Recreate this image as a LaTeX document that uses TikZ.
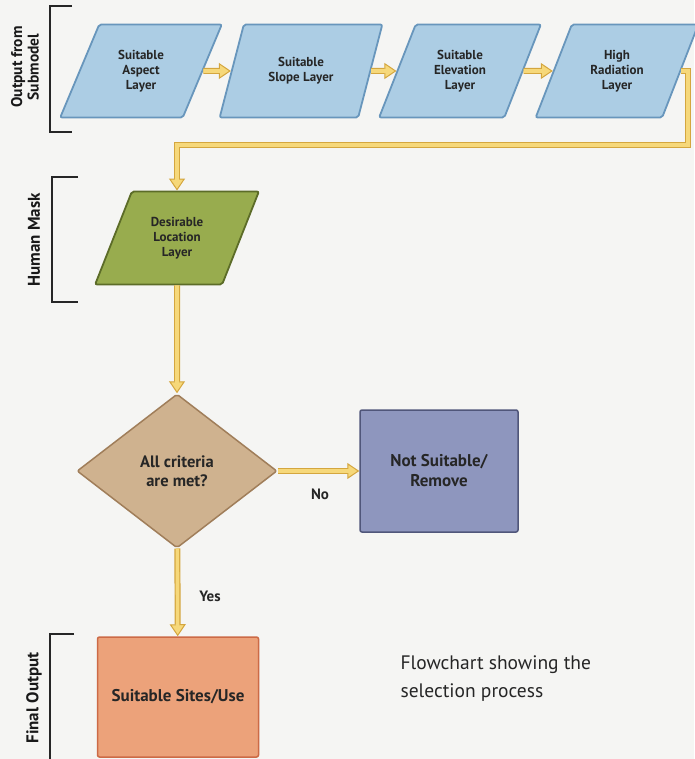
\documentclass[tikz,border=0pt]{standalone}
\usepackage{fontspec}
\setmainfont{PT Sans}
\usetikzlibrary{shapes.geometric,arrows.meta}
\definecolor{bg}{RGB}{245,245,243}
\definecolor{txt}{RGB}{38,38,38}
\definecolor{bfill}{RGB}{172,205,228}
\definecolor{bdraw}{RGB}{104,150,188}
\definecolor{gfill}{RGB}{152,172,78}
\definecolor{gdraw}{RGB}{92,108,40}
\definecolor{dfill}{RGB}{207,178,143}
\definecolor{ddraw}{RGB}{160,126,90}
\definecolor{nfill}{RGB}{142,150,190}
\definecolor{ndraw}{RGB}{80,86,122}
\definecolor{ffill}{RGB}{236,162,122}
\definecolor{fdraw}{RGB}{204,106,70}
\definecolor{pin}{RGB}{246,216,122}
\definecolor{pout}{RGB}{212,166,62}
\begin{document}
\begin{tikzpicture}[x=1pt,y=-1pt,
  lbl/.style={font=\bfseries\fontsize{13}{15}\selectfont, text=txt, align=center},
  biglbl/.style={font=\bfseries\fontsize{16.5}{19.5}\selectfont, text=txt, align=center},
  para/.style={trapezium, trapezium left angle=63, trapezium right angle=117,
    trapezium stretches=true, minimum width=163pt, minimum height=93pt,
    inner sep=0pt, line width=1.8pt, rounded corners=2pt, lbl},
  layerbox/.style={para, fill=bfill, draw=bdraw},
  maskbox/.style={para, fill=gfill, draw=gdraw, minimum width=164pt},
  decision/.style={diamond, aspect=1.3, minimum width=200pt, minimum height=154pt,
    inner sep=0pt, fill=dfill, draw=ddraw, line width=1.5pt, rounded corners=2pt, biglbl},
  outbox/.style={rectangle, inner sep=0pt, line width=1.5pt, rounded corners=2pt, biglbl},
  pipe/.style={line width=6pt, draw=pout,
    -{Triangle[width=16pt,length=12pt,line width=1pt,fill=pin,color=pout]},
    postaction={draw=pin, line width=3.6pt, -, shorten >=10pt}},
  brk/.style={line width=1.4pt, draw=black!85},
  brklbl/.style={font=\bfseries\fontsize{17}{17}\selectfont, text=black!90, align=center, rotate=90},
  edgelbl/.style={font=\bfseries\fontsize{15}{17}\selectfont, text=txt}
]
\fill[bg] (0,0) rectangle (694,759);
\useasboundingbox (0,0) rectangle (694,759);

% top row layers
\node[layerbox] (p1) at (141,71) {Suitable\\Aspect\\Layer};
\node[layerbox] (p2) at (301,71) {Suitable\\Slope Layer};
\node[layerbox] (p3) at (460,71) {Suitable\\Elevation\\Layer};
\node[layerbox] (p4) at (617,71) {High\\Radiation\\Layer};

% human mask
\node[maskbox] (mask) at (177,238) {Desirable\\Location\\Layer};

% decision
\node[decision] (dec) at (177,471) {All criteria\\are met?};

% outcomes
\node[outbox, fill=nfill, draw=ndraw, minimum width=158pt, minimum height=122pt, font=\bfseries\fontsize{17}{20}\selectfont] (ns) at (439,471) {Not Suitable/\\Remove};
\node[outbox, fill=ffill, draw=fdraw, minimum width=161pt, minimum height=120pt, font=\bfseries\fontsize{17}{20}\selectfont] (fin) at (178,697) {Suitable Sites/Use};

% connectors
\draw[pipe] (p1) -- (p2);
\draw[pipe] (p2) -- (p3);
\draw[pipe] (p3) -- (p4);
\coordinate (bend) at (688,145);
\draw[pipe] (p4.east) -| (bend) -| (mask.north);
\draw[pipe] (mask) -- (dec);
\draw[pipe] (dec) -- (ns);
\draw[pipe] (dec) -- (fin);

\node[edgelbl] (nolbl) at (320,494) {No};
\node[edgelbl] (yeslbl) at (210,596) {Yes};

% brackets
\draw[brk] (72,6) -- (50,6) -- (50,132) -- (72,132);
\node[brklbl, font=\bfseries\fontsize{15.5}{16.5}\selectfont] (b1) at (25,67) {Output from\\Submodel};
\draw[brk] (78,177) -- (52,177) -- (52,302) -- (78,302);
\node[brklbl] (b2) at (34,240) {Human Mask};
\draw[brk] (74,634) -- (50,634) -- (50,765) -- (74,765);
\node[brklbl] (b3) at (34,698) {Final Output};

% caption
\node[font=\fontsize{19.5}{28}\selectfont, text=black!85, align=left, anchor=west] (cap) at (397,679) {Flowchart showing the\\selection process};
\end{tikzpicture}
\end{document}
